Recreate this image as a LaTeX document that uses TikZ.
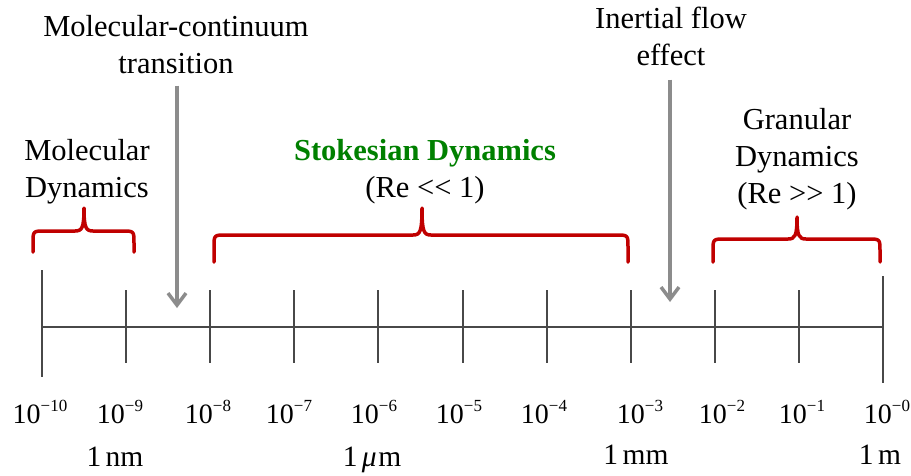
\documentclass[tikz,border=0pt]{standalone}
\usepackage{fontspec}
\setmainfont{Liberation Serif}
\usetikzlibrary{arrows.meta}
\definecolor{bracered}{RGB}{192,0,0}
\definecolor{stokesgreen}{RGB}{0,128,0}
\definecolor{arrowgray}{RGB}{140,140,140}
\definecolor{axisgray}{RGB}{72,72,72}
\newcommand\tenpow[1]{10\raisebox{0.42em}{\fontsize{17}{17}\selectfont #1}}
\begin{document}
\begin{tikzpicture}[x=1pt,y=-1pt,
  txt/.style={font=\fontsize{30.5}{37}\selectfont, align=center, inner sep=0pt, anchor=base},
  lbl/.style={font=\fontsize{28}{30}\selectfont, inner sep=0pt, anchor=base},
  unitlbl/.style={font=\fontsize{29.5}{30}\selectfont, inner sep=0pt, anchor=base},
  axisline/.style={draw=axisgray, line width=2pt},
  bracepath/.style={draw=bracered, line width=3.5pt, line cap=round, line join=round},
  grayarrow/.style={draw=arrowgray, line width=3.5pt, -{Straight Barb[length=12pt,width=18pt]}}
]
\useasboundingbox (0,0) rectangle (911,475);

% axis
\coordinate (ax0) at (42,327);
\coordinate (ax10) at (883,327);
\draw[axisline] (ax0) -- (ax10);
\foreach \i in {1,...,9} {
  \pgfmathsetmacro\xx{round(42+84.1*\i)}
  \coordinate (tt\i) at (\xx,290);
  \coordinate (tb\i) at (\xx,363);
  \draw[axisline] (tt\i) -- (tb\i);
}
\coordinate (tt0) at (42,270); \coordinate (tb0) at (42,377);
\coordinate (tt10) at (883,276); \coordinate (tb10) at (883,383);
\draw[axisline] (tt0) -- (tb0);
\draw[axisline] (tt10) -- (tb10);

% tick labels
\node[lbl] (l0) at (40,423) {\tenpow{−10}};
\node[lbl] (l1) at (120,423) {\tenpow{−9}};
\node[lbl] (l2) at (208,423) {\tenpow{−8}};
\node[lbl] (l3) at (289,423) {\tenpow{−7}};
\node[lbl] (l4) at (374,423) {\tenpow{−6}};
\node[lbl] (l5) at (459,423) {\tenpow{−5}};
\node[lbl] (l6) at (544,423) {\tenpow{−4}};
\node[lbl] (l7) at (640,423) {\tenpow{−3}};
\node[lbl] (l8) at (722,423) {\tenpow{−2}};
\node[lbl] (l9) at (802,423) {\tenpow{−1}};
\node[lbl] (l10) at (887,423) {\tenpow{−0}};

% unit labels
\node[unitlbl] (unm) at (115,466) {1\hspace{0.15em}nm};
\node[unitlbl] (uum) at (372,466) {1\hspace{0.15em}\textit{μ}\hspace{0.05em}m};
\node[unitlbl] (umm) at (636,464) {1\hspace{0.15em}mm};
\node[unitlbl] (um) at (880,464) {1\hspace{0.15em}m};

% texts (anchor base = baseline of last line)
\node[txt] (mct) at (176,73) {Molecular-continuum\\transition};
\node[txt] (md) at (87,197) {Molecular\\Dynamics};
\node[txt] (sd) at (425,197) {\textcolor{stokesgreen}{\bfseries Stokesian Dynamics}\\(Re <\kern0pt< 1)};
\node[txt] (ife) at (671,65) {Inertial flow\\effect};
\node[txt] (gd) at (797,203) {Granular\\Dynamics\\(Re >\kern0pt> 1)};

% arrows
\coordinate (a1e) at (177,308);
\coordinate (a2e) at (670,302);
\draw[grayarrow, shorten <=12pt] (mct.south -| a1e) -- (a1e);
\draw[grayarrow, shorten <=14pt] (ife.south -| a2e) -- (a2e);

% braces
\draw[bracepath] (33,252) -- (33,243) .. controls (33,231) .. (45,231) -- (75,231)
  .. controls (82,231) and (84,228) .. (84,208)
  .. controls (84,228) and (86,231) .. (93,231) -- (122,231)
  .. controls (134,231) .. (134,243) -- (134,252);
\draw[bracepath] (214,262) -- (214,247) .. controls (214,235) .. (226,235) -- (413,235)
  .. controls (420,235) and (422,232) .. (422,208)
  .. controls (422,232) and (424,235) .. (431,235) -- (616,235)
  .. controls (628,235) .. (628,247) -- (628,262);
\draw[bracepath] (713,262) -- (713,251) .. controls (713,239) .. (725,239) -- (788,239)
  .. controls (795,239) and (797,236) .. (797,217)
  .. controls (797,236) and (799,239) .. (806,239) -- (868,239)
  .. controls (880,239) .. (880,251) -- (880,262);
\end{tikzpicture}
\end{document}
